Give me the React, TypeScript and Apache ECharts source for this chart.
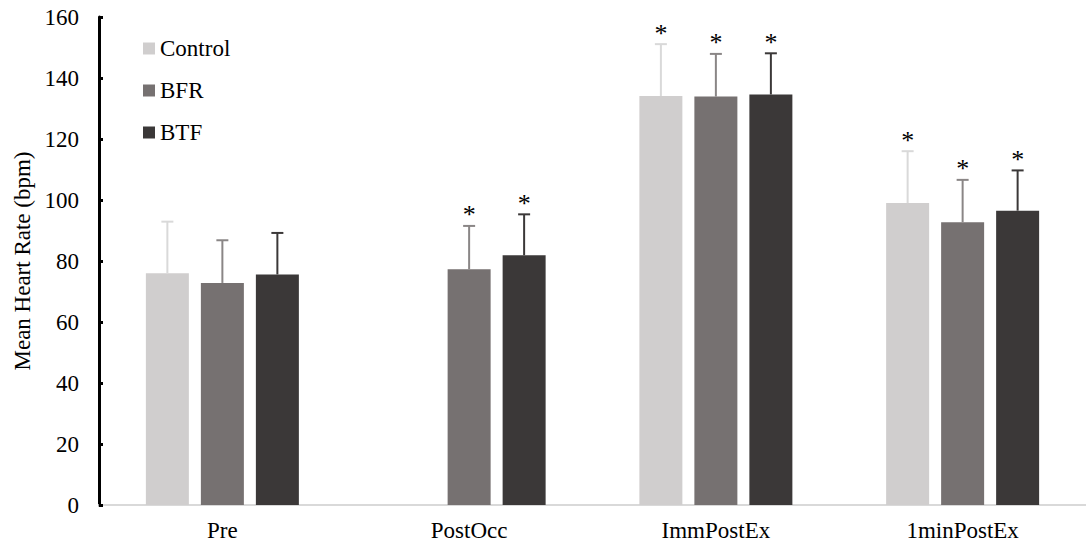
import React, { useEffect, useRef } from "react";
import * as echarts from "echarts";

// Mean heart rate at each time point, with upper SD whiskers
const categories = ["Pre", "PostOcc", "ImmPostEx", "1minPostEx"];
const seriesNames = ["Control", "BFR", "BTF"];
const seriesColors = ["#d0cece", "#767171", "#3b3838"];
const whiskerColors = ["#d9d9d9", "#8a8686", "#3b3838"];

const controlMean = [76, null, 134.1, 99];
const controlSD = [16.9, null, 17, 17];
const bfrMean = [72.8, 77.3, 133.9, 92.7];
const bfrSD = [14, 14.2, 14, 13.9];
const btfMean = [75.6, 81.9, 134.6, 96.5];
const btfSD = [13.6, 13.4, 13.5, 13.2];

// significance markers (*)
const controlSig = [false, false, true, true];
const bfrSig = [false, true, true, true];
const btfSig = [false, true, true, true];

const yTicks = { min: 0, max: 160, interval: 20 };

const FONT = "Liberation Serif";
const BAR_W = 43;
const BAR_GAP = 12;

export default function App() {
  const ref = useRef<HTMLDivElement>(null);

  useEffect(() => {
    if (!ref.current) return;
    const chart = echarts.init(ref.current, undefined, { renderer: "svg" });

    const means = [controlMean, bfrMean, btfMean];
    const sds = [controlSD, bfrSD, btfSD];
    const sigs = [controlSig, bfrSig, btfSig];

    const barSeries = seriesNames.map((name, s) => ({
      name,
      type: "bar",
      data: means[s],
      barWidth: BAR_W,
      barGap: `${(BAR_GAP / BAR_W) * 100}%`,
      itemStyle: { color: seriesColors[s] },
      z: 2,
    }));

    const errSeries = seriesNames.map((name, s) => ({
      name: name + "-err",
      type: "custom",
      z: 3,
      silent: true,
      data: categories
        .map((_, i) =>
          means[s][i] == null
            ? null
            : [i, means[s][i], (means[s][i] as number) + (sds[s][i] as number), sigs[s][i] ? 1 : 0]
        )
        .filter((d) => d != null),
      encode: { x: 0, y: 2 },
      renderItem: (params: any, api: any) => {
        const i = api.value(0);
        const base = api.coord([i, api.value(1)]);
        const top = api.coord([i, api.value(2)]);
        const dx = (s - 1) * (BAR_W + BAR_GAP);
        const x = base[0] + dx;
        const color = whiskerColors[s];
        const children: any[] = [
          {
            type: "line",
            shape: { x1: x, y1: base[1], x2: x, y2: top[1] },
            style: { stroke: color, lineWidth: 2 },
          },
          {
            type: "line",
            shape: { x1: x - 6, y1: top[1], x2: x + 6, y2: top[1] },
            style: { stroke: color, lineWidth: 2 },
          },
        ];
        if (api.value(3) === 1) {
          children.push({
            type: "text",
            x,
            y: top[1] + 2,
            style: {
              text: "*",
              fontFamily: FONT,
              fontSize: 26,
              fill: "#000",
              align: "center",
              verticalAlign: "bottom",
            },
          });
        }
        return { type: "group", children };
      },
    }));

    chart.setOption({
      animation: false,
      backgroundColor: "#fff",
      textStyle: { fontFamily: FONT },
      grid: { left: 99, right: -9, top: 17, bottom: 41, containLabel: false },
      legend: {
        data: seriesNames,
        orient: "vertical",
        left: 138,
        top: 32,
        itemWidth: 12,
        itemHeight: 12,
        itemGap: 19,
        icon: "rect",
        textStyle: { fontFamily: FONT, fontSize: 23, color: "#000" },
      },
      xAxis: {
        type: "category",
        data: categories,
        axisLine: { lineStyle: { color: "#d9d9d9", width: 2 } },
        axisTick: { show: false },
        axisLabel: { fontFamily: FONT, fontSize: 23, color: "#000", margin: 14 },
      },
      yAxis: {
        type: "value",
        min: yTicks.min,
        max: yTicks.max,
        interval: yTicks.interval,
        name: "Mean Heart Rate (bpm)",
        nameLocation: "middle",
        nameGap: 65,
        nameRotate: 90,
        nameTextStyle: { fontFamily: FONT, fontSize: 23, color: "#000" },
        axisLine: { show: true, lineStyle: { color: "#000", width: 3 } },
        axisTick: { show: true, inside: true, length: 4, lineStyle: { color: "#000", width: 3 } },
        axisLabel: { fontFamily: FONT, fontSize: 23, color: "#000", margin: 20 },
        splitLine: { show: false },
      },
      series: [...barSeries, ...errSeries],
    });

    return () => chart.dispose();
  }, []);

  return (
    <div
      ref={ref}
      style={{ position: "absolute", left: 0, top: 0, width: 1086, height: 546 }}
    />
  );
}
